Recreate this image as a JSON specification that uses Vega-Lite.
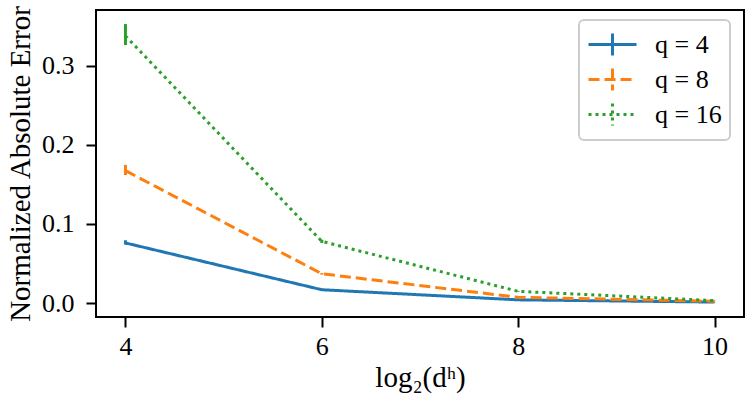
{
  "$schema": "https://vega.github.io/schema/vega-lite/v6.json",
  "width": 648,
  "height": 307,
  "autosize": {"type": "none"},
  "padding": {"left": 96, "top": 10, "right": 3, "bottom": 90},
  "background": "white",
  "data": {
    "values": [
      {"q": "q = 4", "x": 4, "y": 0.076, "lo": 0.0739, "hi": 0.0794},
      {"q": "q = 4", "x": 6, "y": 0.0168, "lo": 0.0163, "hi": 0.0173},
      {"q": "q = 4", "x": 8, "y": 0.004, "lo": 0.0038, "hi": 0.0042},
      {"q": "q = 4", "x": 10, "y": 0.0012, "lo": 0.0011, "hi": 0.0013},
      {"q": "q = 8", "x": 4, "y": 0.1675, "lo": 0.162, "hi": 0.1748},
      {"q": "q = 8", "x": 6, "y": 0.037, "lo": 0.036, "hi": 0.038},
      {"q": "q = 8", "x": 8, "y": 0.0072, "lo": 0.0069, "hi": 0.0075},
      {"q": "q = 8", "x": 10, "y": 0.0022, "lo": 0.0021, "hi": 0.0023},
      {"q": "q = 16", "x": 4, "y": 0.338, "lo": 0.3265, "hi": 0.353},
      {"q": "q = 16", "x": 6, "y": 0.078, "lo": 0.076, "hi": 0.08},
      {"q": "q = 16", "x": 8, "y": 0.0148, "lo": 0.0143, "hi": 0.0153},
      {"q": "q = 16", "x": 10, "y": 0.003, "lo": 0.0029, "hi": 0.0031}
    ]
  },
  "encoding": {
    "x": {
      "field": "x",
      "type": "quantitative",
      "scale": {"domain": [3.7, 10.3], "nice": false, "zero": false},
      "axis": {"values": [4, 6, 8, 10], "title": "log₂(dʰ)", "format": "d"}
    },
    "color": {
      "field": "q",
      "type": "nominal",
      "scale": {"domain": ["q = 4", "q = 8", "q = 16"], "range": ["#1f77b4", "#ff7f0e", "#2ca02c"]},
      "legend": {
        "title": null,
        "orient": "none",
        "legendX": 483,
        "legendY": 10,
        "symbolType": "M-1.6,0H1.6M0,-0.73V0.73",
        "symbolSize": 900,
        "symbolStrokeWidth": 3
      }
    }
  },
  "layer": [
    {
      "mark": {"type": "rule", "strokeWidth": 3},
      "encoding": {
        "y": {"field": "lo", "type": "quantitative"},
        "y2": {"field": "hi"}
      }
    },
    {
      "mark": {"type": "line", "strokeWidth": 3},
      "encoding": {
        "y": {
          "field": "y",
          "type": "quantitative",
          "scale": {"domain": [-0.0177, 0.3708], "nice": false, "zero": false},
          "axis": {"values": [0, 0.1, 0.2, 0.3], "format": ".1f", "title": "Normalized Absolute Error"}
        },
        "strokeDash": {
          "field": "q",
          "type": "nominal",
          "scale": {"domain": ["q = 4", "q = 8", "q = 16"], "range": [[1, 0], [11, 5], [3, 4]]},
          "legend": {
            "title": null,
            "orient": "none",
            "legendX": 483,
            "legendY": 10,
            "symbolType": "M-1.6,0H1.6M0,-0.73V0.73",
            "symbolSize": 900,
            "symbolStrokeWidth": 3
          }
        }
      }
    }
  ],
  "config": {
    "font": "Liberation Serif",
    "view": {"stroke": "black", "strokeWidth": 2},
    "axis": {
      "grid": false,
      "domain": false,
      "tickColor": "black",
      "tickWidth": 2,
      "tickSize": 10,
      "labelFont": "Liberation Serif",
      "labelFontSize": 26,
      "labelColor": "black",
      "titleFont": "Liberation Serif",
      "titleFontSize": 29,
      "titleFontWeight": "normal",
      "titleColor": "black"
    },
    "axisX": {"labelPadding": 6, "titlePadding": 4},
    "axisY": {"labelPadding": 12, "titlePadding": 6},
    "legend": {
      "fillColor": "white",
      "strokeColor": "#cccccc",
      "strokeWidth": 2,
      "cornerRadius": 5,
      "padding": 8,
      "symbolOffset": 9,
      "labelFont": "Liberation Serif",
      "labelFontSize": 26,
      "labelColor": "black",
      "labelOffset": 26,
      "rowPadding": 0
    }
  }
}
